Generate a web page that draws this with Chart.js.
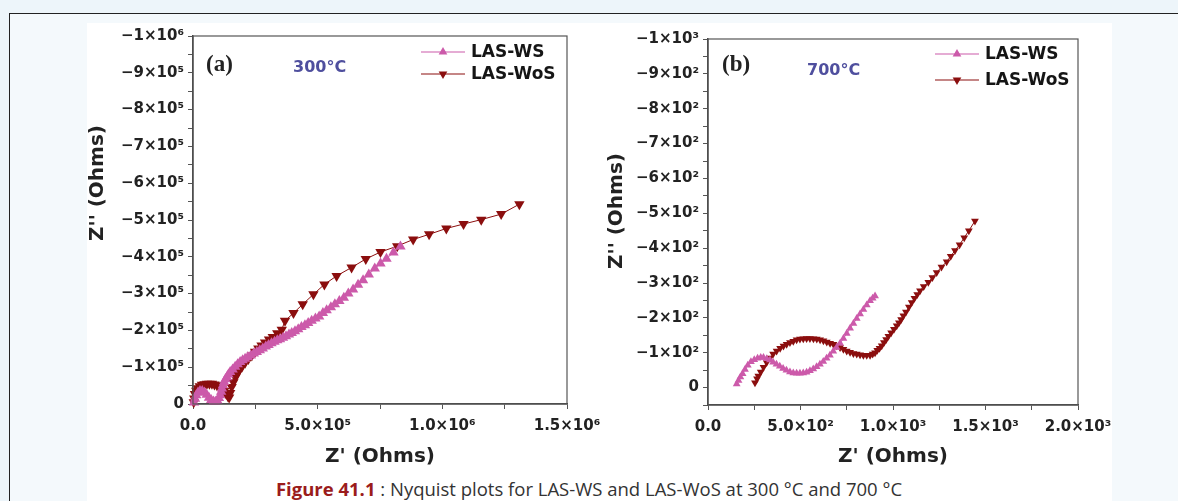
<!DOCTYPE html>
<html>
<head>
<meta charset="utf-8">
<script src="https://cdn.jsdelivr.net/npm/chart.js@4.4.1/dist/chart.umd.min.js"></script>
<style>
  html, body { margin: 0; padding: 0; }
  body { width: 1178px; height: 501px; overflow: hidden; position: relative; background: #edf5fa; }
  #frame { position: absolute; left: 9px; top: 13px; width: 1200px; height: 520px; border-top: 1.5px solid #222; border-left: 1.5px solid #222; background: #f4f9fc; }
  #white { position: absolute; left: 87px; top: 23px; width: 1025px; height: 478px; background: #ffffff; }
  canvas { position: absolute; }
  #cA { left: 60px; top: 20px; }
  #cB { left: 580px; top: 20px; }
  #cap { position: absolute; left: 0; width: 1178px; top: 477px; text-align: center; font-family: "Open Sans", sans-serif; font-size: 18.5px; line-height: 24px; color: #333; white-space: nowrap; }
  #cap b { color: #9b1c1c; font-weight: 700; }
</style>
</head>
<body>
<div id="frame"></div>
<div id="white"></div>
<canvas id="cA" width="560" height="455"></canvas>
<canvas id="cB" width="560" height="455"></canvas>
<div id="cap"><b>Figure 41.1</b> : Nyquist plots for LAS-WS and LAS-WoS at 300 °C and 700 °C</div>
<script>
// ---------- DATA (Ohms) ----------
// Panel (a) 300 °C  (values in units of 1e5 Ohm, converted below)
const ws300Re  = [0.04,0.08,0.13,0.20,0.28,0.37,0.46,0.55,0.64,0.73,0.82,0.90,0.98,1.04,1.09,1.13,1.16,1.20,1.25,1.30,1.36,1.42,1.49,1.59,1.69,1.79,1.89,1.99,2.09,2.20,2.32,2.44,2.56,2.68,2.80,2.92,3.03,3.15,3.27,3.38,3.49,3.61,3.73,3.85,3.96,4.09,4.22,4.35,4.49,4.62,4.76,4.91,5.06,5.21,5.36,5.53,5.69,5.87,6.05,6.23,6.42,6.62,6.82,7.05,7.29,7.52,7.76,8.04,8.32];
const ws300Im  = [-0.04,-0.14,-0.24,-0.31,-0.35,-0.35,-0.31,-0.25,-0.17,-0.11,-0.07,-0.06,-0.09,-0.16,-0.24,-0.33,-0.42,-0.51,-0.60,-0.67,-0.73,-0.80,-0.87,-0.94,-1.01,-1.08,-1.14,-1.19,-1.23,-1.28,-1.32,-1.37,-1.41,-1.46,-1.51,-1.56,-1.60,-1.65,-1.69,-1.73,-1.76,-1.80,-1.84,-1.89,-1.93,-1.98,-2.03,-2.09,-2.14,-2.20,-2.26,-2.32,-2.38,-2.47,-2.55,-2.63,-2.71,-2.80,-2.89,-3.00,-3.11,-3.24,-3.36,-3.52,-3.68,-3.82,-3.95,-4.12,-4.28];
const wos300Re = [0.03,0.05,0.08,0.13,0.19,0.27,0.36,0.46,0.56,0.66,0.76,0.86,0.96,1.06,1.16,1.25,1.33,1.40,1.45,1.49,1.55,1.62,1.70,1.78,1.86,1.97,2.09,2.22,2.36,2.49,2.62,2.75,2.89,3.05,3.20,3.38,3.56,3.69,4.03,4.40,4.83,5.27,5.76,6.36,6.93,7.52,8.19,8.83,9.47,10.16,10.85,11.56,12.36,13.09];
const wos300Im = [-0.05,-0.15,-0.27,-0.36,-0.43,-0.48,-0.52,-0.54,-0.55,-0.55,-0.55,-0.53,-0.51,-0.47,-0.42,-0.35,-0.28,-0.21,-0.18,-0.30,-0.46,-0.59,-0.72,-0.83,-0.92,-1.02,-1.12,-1.22,-1.32,-1.42,-1.51,-1.59,-1.67,-1.75,-1.82,-1.92,-2.02,-2.26,-2.47,-2.71,-2.98,-3.25,-3.48,-3.71,-3.94,-4.13,-4.29,-4.47,-4.61,-4.77,-4.89,-5.01,-5.16,-5.43];
const scale300 = 1e5;

// Panel (b) 700 °C (Ohm)
const ws700Re  = [155,165,175,187,200,215,232,250,268,285,300,318,335,352,370,388,406,424,443,461,479,497,515,533,551,569,587,605,623,641,659,677,695,714,732,750,768,786,804,822,840,858,876,890,903];
const ws700Im  = [-10,-20,-30,-40,-52,-64,-74,-80,-84,-86,-86,-83,-79,-73,-67,-61,-55,-50,-45,-42,-41,-41,-42,-44,-48,-53,-60,-67,-75,-84,-93,-104,-115,-127,-141,-155,-170,-184,-198,-211,-224,-237,-249,-256,-263];
const wos700Re = [254,265,272,285,300,317,335,352,371,390,408,425,443,461,479,497,515,533,551,570,588,606,624,642,660,678,696,714,732,750,768,786,804,822,840,858,876,890,903,915,927,939,951,963,975,990,1005,1020,1032,1044,1056,1070,1086,1101,1116,1131,1146,1166,1191,1213,1236,1262,1290,1312,1335,1360,1385,1410,1443];
const wos700Im = [-14,-25,-33,-45,-58,-72,-85,-96,-105,-113,-119,-124,-129,-133,-137,-139,-140,-141,-141,-140,-139,-137,-134,-131,-127,-124,-120,-115,-110,-105,-101,-98,-96,-94,-93,-93,-93,-96,-100,-107,-113,-120,-129,-138,-147,-157,-167,-177,-186,-195,-206,-217,-231,-244,-256,-267,-278,-290,-302,-316,-330,-346,-361,-377,-393,-410,-430,-450,-478];

// Tick labels
const yTicks300 = [0,-1e5,-2e5,-3e5,-4e5,-5e5,-6e5,-7e5,-8e5,-9e5,-1e6];
const yLabels300 = ["0","\u22121\u00d710\u2075","\u22122\u00d710\u2075","\u22123\u00d710\u2075","\u22124\u00d710\u2075","\u22125\u00d710\u2075","\u22126\u00d710\u2075","\u22127\u00d710\u2075","\u22128\u00d710\u2075","\u22129\u00d710\u2075","\u22121\u00d710\u2076"];
const xTicks300 = [0,5e5,1e6,1.5e6];
const xLabels300 = ["0.0","5.0\u00d710\u2075","1.0\u00d710\u2076","1.5\u00d710\u2076"];
const yTicks700 = [0,-100,-200,-300,-400,-500,-600,-700,-800,-900,-1000];
const yLabels700 = ["0","\u22121\u00d710\u00b2","\u22122\u00d710\u00b2","\u22123\u00d710\u00b2","\u22124\u00d710\u00b2","\u22125\u00d710\u00b2","\u22126\u00d710\u00b2","\u22127\u00d710\u00b2","\u22128\u00d710\u00b2","\u22129\u00d710\u00b2","\u22121\u00d710\u00b3"];
const xTicks700 = [0,500,1000,1500,2000];
const xLabels700 = ["0.0","5.0\u00d710\u00b2","1.0\u00d710\u00b3","1.5\u00d710\u00b3","2.0\u00d710\u00b3"];

const seriesNames = ["LAS-WS","LAS-WoS"];
const colWS = "#cc5aaa";
const colWoS = "#8b0e0e";

// ---------- helpers ----------
function pts(re, im, k) { return re.map((v, i) => ({ x: v * k, y: im[i] * k })); }
function labeler(vals, labels, tol) {
  return function (v) {
    const i = vals.findIndex(t => Math.abs(t - v) < tol);
    return i >= 0 ? labels[i] : '';
  };
}

const tickFont = { family: "DejaVu Sans", weight: "bold", size: 15 };
const titleFont = { family: "DejaVu Sans", weight: "bold", size: 20 };

const decor = {
  id: 'decor',
  afterDraw(chart, args, o) {
    const ctx = chart.ctx, a = chart.chartArea;
    ctx.save();
    // frame
    ctx.strokeStyle = '#555'; ctx.lineWidth = 1.2;
    ctx.strokeRect(a.left, a.top, a.right - a.left, a.bottom - a.top);
    // y-axis title
    ctx.save();
    ctx.translate(o.ytX, o.ytY); ctx.rotate(-Math.PI / 2);
    ctx.textAlign = 'center'; ctx.textBaseline = 'middle';
    ctx.fillStyle = '#222'; ctx.font = 'bold 20px "DejaVu Sans"';
    ctx.fillText(o.yTitle, 0, 0);
    ctx.restore();
    // panel label & temperature
    ctx.textBaseline = 'middle'; ctx.textAlign = 'left';
    ctx.fillStyle = '#222'; ctx.font = 'bold 23px "Liberation Serif"';
    ctx.fillText(o.panel, o.panelX, o.panelY);
    ctx.fillStyle = '#4f4f9e'; ctx.font = 'bold 16px "DejaVu Sans"';
    ctx.fillText(o.temp, o.tempX, o.tempY);
    // legend
    chart.data.datasets.forEach((ds, i) => {
      const y = o.legY + i * o.legGap;
      ctx.strokeStyle = ds.borderColor; ctx.lineWidth = 1.2;
      ctx.beginPath(); ctx.moveTo(o.legX, y); ctx.lineTo(o.legX + o.legLen, y); ctx.stroke();
      const cx = o.legX + o.legLen / 2, r = o.legR;
      const s = ds.pointRotation === 180 ? -1 : 1;
      ctx.fillStyle = ds.backgroundColor;
      ctx.beginPath();
      ctx.moveTo(cx, y - s * r);
      ctx.lineTo(cx + r * 0.866, y + s * r * 0.5);
      ctx.lineTo(cx - r * 0.866, y + s * r * 0.5);
      ctx.closePath(); ctx.fill();
      ctx.fillStyle = '#151515'; ctx.font = 'bold 17px "DejaVu Sans"';
      ctx.fillText(ds.label, o.legX + o.legLen + 6, y + 1);
    });
    ctx.restore();
  }
};

function makeChart(id, cfg) {
  return new Chart(document.getElementById(id), {
    type: 'line',
    data: {
      datasets: [
        { label: seriesNames[0], data: cfg.ws, borderColor: colWS, backgroundColor: colWS, borderWidth: 1,
          pointStyle: 'triangle', pointRadius: cfg.r, pointRotation: 0, pointBorderWidth: 0, clip: false, tension: 0 },
        { label: seriesNames[1], data: cfg.wos, borderColor: colWoS, backgroundColor: colWoS, borderWidth: 1,
          pointStyle: 'triangle', pointRadius: cfg.r, pointRotation: 180, pointBorderWidth: 0, clip: false, tension: 0 }
      ]
    },
    options: {
      responsive: false, animation: false, devicePixelRatio: 1,
      layout: { padding: { top: cfg.padTop, right: cfg.padRight, left: 0, bottom: 0 } },
      plugins: { legend: { display: false }, tooltip: { enabled: false }, decor: cfg.decor },
      scales: {
        x: {
          type: 'linear', min: 0, max: cfg.xMax,
          afterFit: s => { s.height = cfg.xH; },
          ticks: { stepSize: cfg.xStep, autoSkip: false, maxRotation: 0, font: tickFont, color: '#222', padding: 8,
                   callback: labeler(cfg.xT, cfg.xL, cfg.xStep / 10) },
          grid: { drawOnChartArea: false, drawTicks: true, tickLength: 5, color: '#555', lineWidth: 1 },
          border: { display: true, color: '#444', width: 1.5 },
          title: { display: true, text: "Z' (Ohms)", font: titleFont, color: '#222', padding: { top: 0, bottom: 6 } }
        },
        y: {
          type: 'linear', min: cfg.yMin, max: cfg.yMax, reverse: true,
          afterFit: s => { s.width = cfg.yW; },
          ticks: { stepSize: cfg.yStep, autoSkip: false, font: tickFont, color: '#222', padding: 4,
                   callback: labeler(cfg.yT, cfg.yL, cfg.yStep / 10) },
          grid: { drawOnChartArea: false, drawTicks: true, tickLength: 5, color: '#555', lineWidth: 1 },
          border: { display: true, color: '#444', width: 1.5 },
          title: { display: false }
        }
      }
    },
    plugins: [decor]
  });
}

makeChart('cA', {
  ws: pts(ws300Re, ws300Im, scale300), wos: pts(wos300Re, wos300Im, scale300), r: 6,
  xMax: 1.5e6, xStep: 2.5e5, xT: xTicks300, xL: xLabels300,
  yMin: -1e6, yMax: 0, yStep: 5e4, yT: yTicks300, yL: yLabels300,
  padTop: 16, padRight: 53, xH: 71, yW: 133,
  decor: { yTitle: "Z'' (Ohms)", ytX: 38, ytY: 163,
           panel: '(a)', panelX: 146, panelY: 45, temp: '300\u00b0C', tempX: 233, tempY: 48,
           legX: 361, legY: 32, legGap: 22, legLen: 44, legR: 5 }
});

makeChart('cB', {
  ws: pts(ws700Re, ws700Im, 1), wos: pts(wos700Re, wos700Im, 1), r: 4.5,
  xMax: 2000, xStep: 250, xT: xTicks700, xL: xLabels700,
  yMin: -1000, yMax: 50, yStep: 50, yT: yTicks700, yL: yLabels700,
  padTop: 19, padRight: 62, xH: 70, yW: 128,
  decor: { yTitle: "Z'' (Ohms)", ytX: 37, ytY: 191,
           panel: '(b)', panelX: 142, panelY: 45, temp: '700\u00b0C', tempX: 227, tempY: 51,
           legX: 355, legY: 34, legGap: 26, legLen: 44, legR: 5 }
});
</script>
</body>
</html>
